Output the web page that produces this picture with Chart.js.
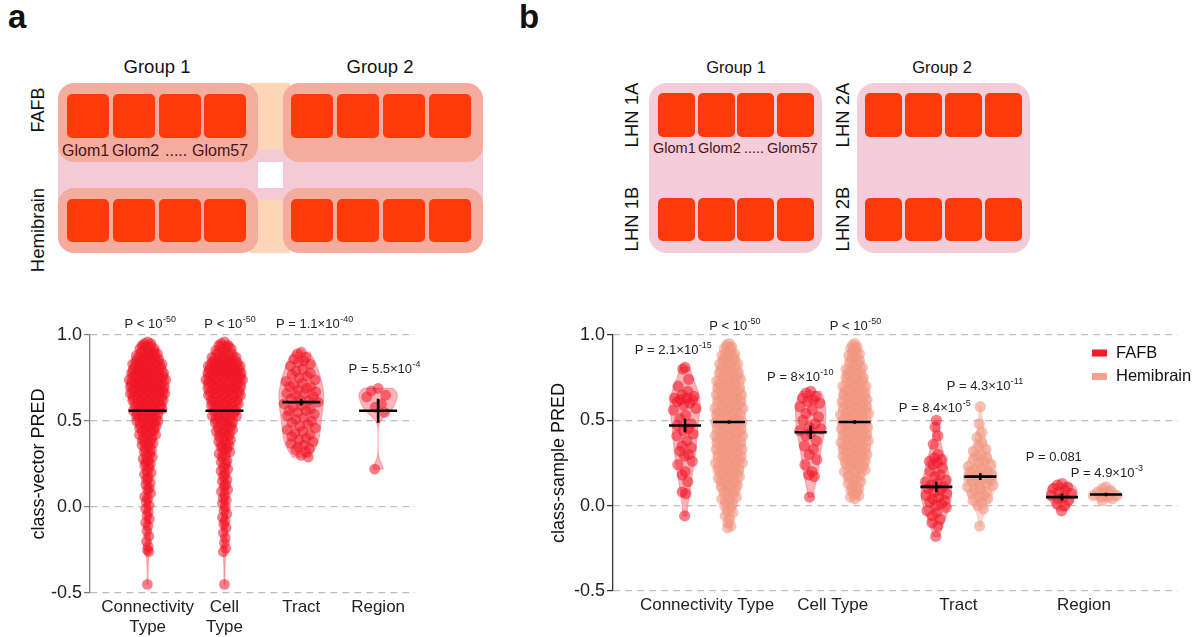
<!DOCTYPE html>
<html><head><meta charset="utf-8">
<script src="https://cdn.jsdelivr.net/npm/chart.js@4.4.1/dist/chart.umd.min.js"></script>
<style>
body{margin:0;width:1199px;height:637px;background:#fff;position:relative;overflow:hidden;font-family:"Liberation Sans",Arial,sans-serif;color:#111}
.ab{position:absolute}
.sq{position:absolute;background:#FF3A0A;border-radius:5px}
.t{position:absolute;white-space:nowrap;transform:translate(-50%,-50%)}
.r{position:absolute;white-space:nowrap;transform:translate(-50%,-50%) rotate(-90deg)}
.g{position:absolute;white-space:nowrap;color:#4a1518;transform:translateY(-50%)}
</style></head><body>
<!-- panel letters -->
<div class="ab" style="left:8px;top:-2px;font-size:33px;font-weight:bold">a</div>
<div class="ab" style="left:519px;top:-2px;font-size:33px;font-weight:bold">b</div>
<!-- schematic a -->
<div class="ab" style="left:250px;top:83px;width:40px;height:170px;background:#FCD6B6"></div>
<div class="ab" style="left:58px;top:150px;width:425px;height:50px;background:#F4CAD6"></div>
<div class="ab" style="left:258px;top:162px;width:25px;height:26px;background:#fff"></div>
<div class="ab" style="left:58px;top:83px;width:200px;height:79px;background:#F3AC9D;border-radius:16px"></div>
<div class="ab" style="left:283px;top:83px;width:200px;height:79px;background:#F3AC9D;border-radius:16px"></div>
<div class="ab" style="left:58px;top:188px;width:200px;height:65px;background:#F3AC9D;border-radius:16px"></div>
<div class="ab" style="left:283px;top:188px;width:200px;height:65px;background:#F3AC9D;border-radius:16px"></div>
<div class="sq" style="left:67px;top:94px;width:42px;height:44px"></div>
<div class="sq" style="left:113px;top:94px;width:42px;height:44px"></div>
<div class="sq" style="left:159px;top:94px;width:42px;height:44px"></div>
<div class="sq" style="left:204px;top:94px;width:42px;height:44px"></div>
<div class="sq" style="left:291px;top:94px;width:42px;height:44px"></div>
<div class="sq" style="left:337px;top:94px;width:42px;height:44px"></div>
<div class="sq" style="left:383px;top:94px;width:42px;height:44px"></div>
<div class="sq" style="left:429px;top:94px;width:42px;height:44px"></div>
<div class="sq" style="left:67px;top:199px;width:42px;height:43px"></div>
<div class="sq" style="left:113px;top:199px;width:42px;height:43px"></div>
<div class="sq" style="left:159px;top:199px;width:42px;height:43px"></div>
<div class="sq" style="left:204px;top:199px;width:42px;height:43px"></div>
<div class="sq" style="left:291px;top:199px;width:42px;height:43px"></div>
<div class="sq" style="left:337px;top:199px;width:42px;height:43px"></div>
<div class="sq" style="left:383px;top:199px;width:42px;height:43px"></div>
<div class="sq" style="left:429px;top:199px;width:42px;height:43px"></div>
<div class="g" style="left:62px;top:151px;font-size:16px">Glom1</div>
<div class="g" style="left:112px;top:151px;font-size:16px">Glom2</div>
<div class="g" style="left:165px;top:151px;font-size:16px">.....</div>
<div class="g" style="left:192px;top:151px;font-size:16px">Glom57</div>
<div class="t" style="left:157px;top:67px;font-size:18.5px">Group 1</div>
<div class="t" style="left:380px;top:67px;font-size:18.5px">Group 2</div>
<div class="r" style="left:38px;top:110px;font-size:18px">FAFB</div>
<div class="r" style="left:38px;top:230px;font-size:18.5px">Hemibrain</div>
<!-- schematic b -->
<div class="ab" style="left:649px;top:83px;width:173px;height:170px;background:#F5CCD9;border-radius:18px"></div>
<div class="ab" style="left:857px;top:83px;width:173px;height:170px;background:#F5CCD9;border-radius:18px"></div>
<div class="sq" style="left:658px;top:93px;width:37px;height:44px"></div>
<div class="sq" style="left:698px;top:93px;width:37px;height:44px"></div>
<div class="sq" style="left:737px;top:93px;width:37px;height:44px"></div>
<div class="sq" style="left:777px;top:93px;width:37px;height:44px"></div>
<div class="sq" style="left:865px;top:93px;width:37px;height:44px"></div>
<div class="sq" style="left:905px;top:93px;width:37px;height:44px"></div>
<div class="sq" style="left:945px;top:93px;width:37px;height:44px"></div>
<div class="sq" style="left:985px;top:93px;width:37px;height:44px"></div>
<div class="sq" style="left:658px;top:198px;width:37px;height:43px"></div>
<div class="sq" style="left:698px;top:198px;width:37px;height:43px"></div>
<div class="sq" style="left:737px;top:198px;width:37px;height:43px"></div>
<div class="sq" style="left:777px;top:198px;width:37px;height:43px"></div>
<div class="sq" style="left:865px;top:198px;width:37px;height:43px"></div>
<div class="sq" style="left:905px;top:198px;width:37px;height:43px"></div>
<div class="sq" style="left:945px;top:198px;width:37px;height:43px"></div>
<div class="sq" style="left:985px;top:198px;width:37px;height:43px"></div>
<div class="g" style="left:653px;top:148px;font-size:14.5px">Glom1</div>
<div class="g" style="left:698px;top:148px;font-size:14.5px">Glom2</div>
<div class="g" style="left:744px;top:148px;font-size:14.5px">.....</div>
<div class="g" style="left:767px;top:148px;font-size:14.5px">Glom57</div>
<div class="t" style="left:736px;top:67px;font-size:16.5px">Group 1</div>
<div class="t" style="left:942px;top:67px;font-size:16.5px">Group 2</div>
<div class="r" style="left:632px;top:115px;font-size:18.5px">LHN 1A</div>
<div class="r" style="left:632px;top:219px;font-size:18.5px">LHN 1B</div>
<div class="r" style="left:843px;top:115px;font-size:18.5px">LHN 2A</div>
<div class="r" style="left:843px;top:219px;font-size:18.5px">LHN 2B</div>

<canvas id="ca" width="430" height="337" style="position:absolute;left:0;top:300px"></canvas>
<canvas id="cb" width="669" height="337" style="position:absolute;left:530px;top:300px"></canvas>
<script>
// ---------- data ----------
const catA = [["Connectivity","Type"],["Cell","Type"],"Tract","Region"];
const catB = ["Connectivity Type","Cell Type","Tract","Region"];
const yTicks = [-0.5, 0, 0.5, 1.0];

const aConn = [.96,.95,.95,.94,.93,.93,.92,.92,.91,.91,.90,.90,.89,.89,.89,.88,.88,.87,.87,.87,.86,.86,.86,.85,.85,.85,.84,.84,.84,.83,.83,.83,.82,.82,.82,.82,.81,.81,.81,.80,.80,.80,.80,.79,.79,.79,.78,.78,.78,.78,.77,.77,.77,.77,.76,.76,.76,.76,.75,.75,.75,.75,.74,.74,.74,.74,.73,.73,.73,.73,.72,.72,.72,.72,.71,.71,.71,.71,.70,.70,.70,.70,.69,.69,.69,.69,.68,.68,.68,.68,.67,.67,.67,.67,.66,.66,.66,.66,.65,.65,.65,.64,.64,.64,.64,.63,.63,.63,.62,.62,.62,.62,.61,.61,.61,.60,.60,.60,.59,.59,.59,.58,.58,.58,.57,.57,.57,.56,.56,.56,.55,.55,.55,.54,.54,.53,.53,.53,.52,.52,.51,.51,.50,.50,.50,.49,.49,.48,.48,.47,.47,.46,.46,.45,.45,.44,.44,.43,.42,.42,.41,.40,.40,.39,.38,.37,.37,.36,.35,.34,.33,.32,.31,.30,.29,.28,.27,.26,.25,.24,.23,.21,.20,.19,.17,.16,.14,.13,.11,.10,.08,.06,.05,.03,.01,-.01,-.03,-.05,-.07,-.09,-.11,-.14,-.17,-.20,-.23,-.25,-.26,-.45];
const aCell = [.96,.95,.94,.94,.93,.92,.92,.91,.90,.90,.89,.89,.88,.88,.87,.87,.86,.86,.86,.85,.85,.85,.84,.84,.84,.84,.83,.83,.83,.83,.82,.82,.82,.82,.81,.81,.81,.81,.80,.80,.80,.80,.79,.79,.79,.79,.78,.78,.78,.78,.77,.77,.77,.77,.76,.76,.76,.76,.75,.75,.75,.75,.74,.74,.74,.73,.73,.73,.73,.72,.72,.72,.71,.71,.71,.71,.70,.70,.70,.69,.69,.69,.69,.68,.68,.68,.67,.67,.67,.67,.66,.66,.66,.65,.65,.65,.64,.64,.64,.63,.63,.63,.62,.62,.62,.61,.61,.61,.60,.60,.60,.59,.59,.58,.58,.58,.57,.57,.56,.56,.56,.55,.55,.54,.54,.54,.53,.53,.52,.52,.51,.51,.50,.50,.49,.49,.48,.48,.47,.46,.46,.45,.45,.44,.43,.43,.42,.41,.41,.40,.39,.38,.37,.36,.36,.35,.34,.33,.32,.31,.30,.29,.27,.26,.25,.23,.22,.21,.19,.18,.16,.15,.13,.12,.10,.09,.07,.05,.04,.02,.00,-.02,-.04,-.06,-.08,-.10,-.12,-.15,-.18,-.21,-.24,-.26,-.45];
const aTract = [.90,.89,.87,.86,.85,.84,.83,.82,.80,.79,.78,.77,.76,.75,.74,.73,.72,.71,.70,.70,.69,.68,.67,.66,.66,.65,.64,.63,.62,.62,.61,.60,.59,.58,.57,.56,.56,.55,.54,.53,.52,.51,.50,.49,.48,.47,.46,.45,.44,.43,.42,.41,.40,.39,.38,.37,.36,.35,.34,.33,.32,.30,.29];
const aRegion = [.69,.675,.65,.64,.60,.58,.55,.22];

const bConnF = [.81,.80,.74,.70,.67,.65,.64,.63,.63,.62,.62,.61,.60,.59,.57,.56,.53,.51,.48,.47,.45,.44,.42,.41,.38,.35,.34,.32,.30,.29,.26,.24,.20,.18,.14,.08,.07,-.06];
const bConnH = [.95,.94,.93,.92,.91,.90,.89,.88,.88,.87,.86,.85,.85,.84,.83,.83,.82,.81,.81,.80,.79,.79,.78,.78,.77,.76,.76,.75,.75,.74,.74,.73,.72,.72,.71,.71,.70,.70,.69,.69,.68,.68,.67,.67,.66,.66,.65,.65,.64,.64,.63,.63,.62,.62,.61,.61,.60,.60,.59,.59,.58,.58,.57,.57,.56,.56,.55,.55,.54,.54,.53,.53,.52,.52,.51,.51,.50,.50,.49,.49,.48,.48,.47,.47,.46,.46,.45,.45,.44,.44,.43,.43,.42,.42,.41,.41,.40,.40,.39,.39,.38,.38,.37,.37,.36,.36,.35,.35,.34,.34,.33,.33,.32,.32,.31,.31,.30,.30,.29,.29,.28,.28,.27,.27,.26,.26,.25,.25,.24,.24,.23,.23,.22,.22,.21,.21,.20,.20,.19,.19,.18,.17,.17,.16,.16,.15,.14,.14,.13,.12,.12,.11,.10,.09,.09,.08,.07,.06,.05,.04,.03,.02,.01,.00,-.01,-.03,-.04,-.06,-.08,-.10,-.12,-.13];
const bCellF = [.67,.66,.64,.63,.62,.61,.60,.58,.56,.54,.52,.50,.48,.46,.45,.44,.43,.41,.38,.35,.33,.30,.27,.24,.20,.18,.17,.05];
const bCellH = [.95,.94,.93,.92,.91,.90,.89,.88,.87,.86,.85,.84,.83,.82,.81,.80,.80,.79,.78,.77,.77,.76,.75,.75,.74,.73,.73,.72,.71,.71,.70,.70,.69,.68,.68,.67,.67,.66,.66,.65,.65,.64,.64,.63,.63,.62,.62,.61,.61,.60,.60,.59,.59,.58,.58,.57,.57,.56,.56,.55,.55,.54,.54,.53,.53,.52,.52,.51,.51,.50,.50,.49,.49,.48,.48,.47,.47,.46,.46,.45,.45,.44,.44,.43,.43,.42,.42,.41,.41,.40,.40,.39,.39,.38,.38,.37,.37,.36,.36,.35,.35,.34,.34,.33,.33,.32,.32,.31,.31,.30,.30,.29,.29,.28,.28,.27,.27,.26,.26,.25,.25,.24,.23,.23,.22,.21,.21,.20,.19,.18,.18,.17,.16,.15,.14,.13,.12,.11,.10,.09,.08,.07,.06,.05,.04];
const bTractF = [.50,.46,.41,.36,.30,.28,.27,.26,.25,.24,.22,.20,.18,.17,.15,.14,.13,.12,.11,.10,.09,.08,.07,.06,.05,.04,.03,.02,.01,.00,-.01,-.03,-.04,-.06,-.08,-.10,-.12,-.18];
const bTractH = [.58,.48,.43,.40,.37,.35,.33,.32,.30,.29,.28,.27,.26,.25,.24,.23,.22,.21,.20,.20,.19,.18,.18,.17,.16,.15,.15,.14,.13,.12,.12,.11,.10,.09,.08,.07,.06,.05,.04,.03,.02,.00,-.02,-.12];
const bRegF = [.13,.12,.11,.10,.09,.08,.07,.06,.05,.04,.03,.01,.00,-.03];
const bRegH = [.11,.10,.09,.08,.07,.07,.06,.06,.05,.05,.04,.03];

const meanA = [0.56, 0.56, 0.61, 0.56];
const semA  = [0.006, 0.006, 0.02, 0.07];
const meanBF = [0.47, 0.43, 0.11, 0.05];
const semBF  = [0.04, 0.04, 0.03, 0.02];
const meanBH = [0.49, 0.49, 0.17, 0.065];
const semBH  = [0.01, 0.01, 0.02, 0.01];

const pTextA = [["P < 10","-50"],["P < 10","-50"],["P = 1.1×10","-40"],["P = 5.5×10","-4"]];
const pTextB = [["P = 2.1×10","-15"],["P < 10","-50"],["P = 8×10","-10"],["P < 10","-50"],["P = 8.4×10","-5"],["P = 4.3×10","-11"],["P = 0.081",""],["P = 4.9×10","-3"]];
const seriesNames = ["FAFB","Hemibrain"];

// ---------- annotation placement (data units) ----------
const pPosA = [[1.03,1.06],[2.07,1.06],[3.17,1.06],[4.08,0.80]];
const pPosB = [[0.73,0.91],[1.22,1.05],[1.74,0.75],[2.18,1.05],[2.81,0.57],[3.21,0.70],[3.76,0.28],[4.18,0.19]];

// ---------- helpers ----------
const FONT = '"Liberation Sans", Arial, sans-serif';
const RED = 'rgba(240,22,38,0.55)', SAL = 'rgba(242,150,128,0.58)';
const VRED = 'rgba(245,120,132,0.55)', VSAL = 'rgba(248,190,178,0.6)';
function vdc(n){let v=0,d=1;while(n>0){d*=2;v+=(n%2)/d;n=Math.floor(n/2);}return v;}
function bandwidth(v){
  const n=v.length, m=v.reduce((a,b)=>a+b,0)/n;
  const sd=Math.sqrt(v.reduce((a,b)=>a+(b-m)*(b-m),0)/(n-1));
  const s=[...v].sort((a,b)=>a-b);
  const q=p=>{const h=(n-1)*p,lo=Math.floor(h);return s[lo]+(h-lo)*(s[Math.min(lo+1,n-1)]-s[lo]);};
  let lo=Math.min(sd,(q(.75)-q(.25))/1.34); if(!(lo>0)) lo=sd||0.05;
  return 0.9*lo*Math.pow(n,-0.2);
}
function dens(v,h,y){let s=0;for(const x of v){const z=(y-x)/h;s+=Math.exp(-0.5*z*z);}return s;}
function prep(g){
  g.h=bandwidth(g.vals); g.min=Math.min(...g.vals); g.max=Math.max(...g.vals);
  let dm=0; g.prof=[]; const N=90;
  for(let i=0;i<=N;i++){const y=g.min+(g.max-g.min)*i/N;const d=dens(g.vals,g.h,y);g.prof.push([y,d]);if(d>dm)dm=d;}
  g.dmax=dm;
  g.pts=g.vals.map((v,i)=>({x:g.x+(2*vdc(i+1)-1)*g.ptHalf*Math.min(1,dens(g.vals,g.h,v)/dm),y:v}));
  return g;
}
function drawP(ctx,cx,cy,base,exp){
  ctx.save(); ctx.fillStyle='#222'; ctx.textBaseline='middle'; ctx.textAlign='left';
  ctx.font='13px '+FONT; const wb=ctx.measureText(base).width;
  ctx.font='9px '+FONT; const we=exp?ctx.measureText(exp).width:0;
  const x0=cx-(wb+we)/2;
  ctx.font='13px '+FONT; ctx.fillText(base,x0,cy);
  if(exp){ctx.font='9px '+FONT;ctx.fillText(exp,x0+wb+0.5,cy-5);}
  ctx.restore();
}
function makeChart(id, cfg){
  const groups=cfg.groups.map(prep);
  const plug={
    id:'violinMeans'+id,
    beforeDatasetsDraw(chart){
      const {ctx,scales:{x,y}}=chart;
      ctx.save();
      for(const g of groups){
        ctx.beginPath();
        g.prof.forEach(([yy,d],i)=>{const px=x.getPixelForValue(g.x+g.vHalf*d/g.dmax);const py=y.getPixelForValue(yy);i?ctx.lineTo(px,py):ctx.moveTo(px,py);});
        for(let i=g.prof.length-1;i>=0;i--){const [yy,d]=g.prof[i];ctx.lineTo(x.getPixelForValue(g.x-g.vHalf*d/g.dmax),y.getPixelForValue(yy));}
        ctx.closePath(); ctx.fillStyle=g.vcol; ctx.fill();
        ctx.strokeStyle=g.vcol; ctx.lineWidth=1.2; ctx.stroke();
      }
      ctx.restore();
    },
    afterDatasetsDraw(chart){
      const {ctx,scales:{x,y}}=chart;
      ctx.save(); ctx.strokeStyle='#000'; ctx.lineWidth=2.6;
      for(const g of groups){
        const cx=x.getPixelForValue(g.x), cy=y.getPixelForValue(g.mean);
        ctx.beginPath(); ctx.moveTo(cx-cfg.barHalf,cy); ctx.lineTo(cx+cfg.barHalf,cy);
        ctx.moveTo(cx,y.getPixelForValue(g.mean+g.sem)); ctx.lineTo(cx,y.getPixelForValue(g.mean-g.sem)); ctx.stroke();
      }
      ctx.restore();
      cfg.pText.forEach((p,i)=>drawP(ctx,x.getPixelForValue(cfg.pPos[i][0]),y.getPixelForValue(cfg.pPos[i][1]),p[0],p[1]));
      if(cfg.legend){
        const L=chart.chartArea.right-86, T=y.getPixelForValue(1.0)+18;
        cfg.legend.forEach((it,i)=>{
          const ty=T+i*23.5;
          ctx.fillStyle=it.c; ctx.fillRect(L,ty-3.5,15,7);
          ctx.fillStyle='#111'; ctx.font='16.5px '+FONT; ctx.textBaseline='middle'; ctx.textAlign='left';
          ctx.fillText(it.n,L+24,ty);
        });
      }
    }
  };
  return new Chart(document.getElementById(id),{
    type:'scatter',
    data:{datasets:groups.map(g=>({data:g.pts,backgroundColor:g.col,borderWidth:0,pointRadius:g.r,pointHoverRadius:g.r}))},
    options:{
      responsive:false, animation:false, events:[],
      layout:{padding:cfg.pad},
      plugins:{legend:{display:false},tooltip:{enabled:false}},
      scales:{
        x:{type:'linear',min:cfg.xMin,max:cfg.xMax,
           afterFit:s=>{s.height=cfg.xH;},
           afterBuildTicks:s=>{s.ticks=cfg.cats.map((c,i)=>({value:i+1}));},
           ticks:{callback:(v)=>cfg.cats[Math.round(v)-1],font:{size:17,family:FONT},color:'#222',padding:cfg.xPad,maxRotation:0,autoSkip:false},
           grid:{display:false,drawTicks:false},border:{display:false}},
        y:{min:-0.5,max:1.0,
           afterFit:s=>{s.width=cfg.yW;},
           afterBuildTicks:s=>{s.ticks=yTicks.map(v=>({value:v}));},
           ticks:{callback:v=>v.toFixed(1),font:{size:18,family:FONT},color:'#222',padding:2},
           title:{display:true,text:cfg.yTitle,font:{size:18,family:FONT},color:'#111',padding:{top:cfg.tPad,bottom:0}},
           grid:{color:'#bdbdbd',lineWidth:1.2,tickLength:6,tickColor:cfg.axCol,tickWidth:1.3,tickBorderDash:[]},
           border:{display:true,color:cfg.axCol,width:1.3,dash:[7,5]}}
      }
    },
    plugins:[plug]
  });
}

const aVals=[aConn,aCell,aTract,aRegion];
const aPt=[0.245,0.245,0.235,0.2], aV=[0.27,0.27,0.29,0.25];
makeChart('ca',{
  cats:catA, xMin:0.25, xMax:4.48, pad:{left:0,right:15,top:35,bottom:0}, xH:44, yW:90, xPad:4, tPad:28,
  yTitle:'class-vector PRED', axCol:'#808080', barHalf:19, pText:pTextA, pPos:pPosA,
  groups:aVals.map((v,i)=>({vals:v,x:i+1,col:RED,vcol:VRED,r:5.4,ptHalf:aPt[i],vHalf:aV[i],mean:meanA[i],sem:semA[i]}))
});
const bF=[bConnF,bCellF,bTractF,bRegF], bH=[bConnH,bCellH,bTractH,bRegH];
const gB=[];
for(let i=0;i<4;i++){
  gB.push({vals:bF[i],x:i+1-0.175,col:RED,vcol:VRED,r:5.6,ptHalf:0.10,vHalf:0.12,mean:meanBF[i],sem:semBF[i]});
  gB.push({vals:bH[i],x:i+1+0.175,col:SAL,vcol:VSAL,r:5.6,ptHalf:0.115,vHalf:0.13,mean:meanBH[i],sem:semBH[i]});
}
makeChart('cb',{
  cats:catB, xMin:0.252, xMax:4.748, pad:{left:0,right:21,top:35,bottom:0}, xH:46, yW:83, xPad:4, tPad:18,
  yTitle:'class-sample PRED', axCol:'#333', barHalf:16, pText:pTextB, pPos:pPosB,
  legend:[{n:seriesNames[0],c:'rgb(240,30,45)'},{n:seriesNames[1],c:'rgb(244,160,140)'}],
  groups:gB
});
</script>
</body></html>
